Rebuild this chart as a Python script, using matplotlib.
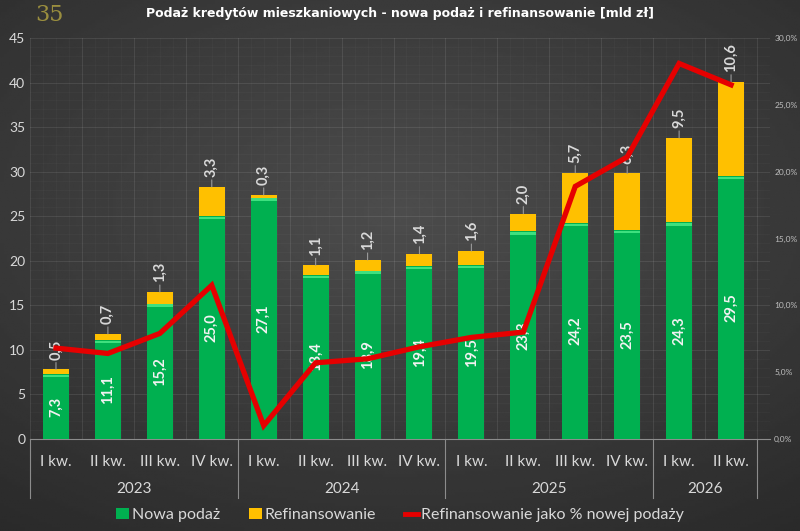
import numpy as np
import matplotlib
matplotlib.use("Agg")
import matplotlib.pyplot as plt
from matplotlib.patches import Patch
from matplotlib.lines import Line2D
from matplotlib.ticker import FuncFormatter, MultipleLocator

plt.rcParams['font.family'] = ['Lato', 'DejaVu Sans']

# --- Daten ---
kwartaly = ["I kw.", "II kw.", "III kw.", "IV kw.",
            "I kw.", "II kw.", "III kw.", "IV kw.",
            "I kw.", "II kw.", "III kw.", "IV kw.",
            "I kw.", "II kw."]
lata = ["2023", "2024", "2025", "2026"]
kw_na_rok = [4, 4, 4, 2]
nowa_podaz = [7.3, 11.1, 15.2, 25.0, 27.1, 18.4, 18.9, 19.4, 19.5, 23.3, 24.2, 23.5, 24.3, 29.5]
refinansowanie = [0.5, 0.7, 1.3, 3.3, 0.3, 1.1, 1.2, 1.4, 1.6, 2.0, 5.7, 6.3, 9.5, 10.6]
refin_proc = [6.8, 6.4, 7.9, 11.5, 1.0, 5.7, 6.0, 6.9, 7.6, 8.0, 18.9, 21.1, 28.1, 26.5]

zielony = "#00b050"
zolty = "#ffc000"
czerwony = "#e60000"
tekst = "#d9d9d9"

fig = plt.figure(figsize=(8, 5.31), dpi=100)
fig.patch.set_facecolor("#333333")

# Hintergrund mit leichter Vignette
bg = fig.add_axes([0, 0, 1, 1], zorder=-10)
yy, xx = np.mgrid[-1:1:200j, -1:1:300j]
r = np.sqrt(xx**2 * 0.8 + (yy + 0.2)**2)
bg.imshow(0.30 - 0.09 * r, cmap="gray", vmin=0, vmax=1, aspect="auto", extent=[0, 1, 0, 1])
bg.axis("off")

ax = fig.add_axes([0.0375, 0.1733, 0.925, 0.755])
ax.set_facecolor("none")
x = np.arange(len(nowa_podaz))

ax.bar(x, nowa_podaz, width=0.5, color=zielony, zorder=3)
ax.bar(x, refinansowanie, width=0.5, bottom=nowa_podaz, color=zolty, zorder=3)
# heller Streifen oben auf den Segmenten
ax.bar(x, [0.25] * len(x), width=0.5, bottom=np.array(nowa_podaz) - 0.35, color="#3ee07f", zorder=3.5)

for i, (n, r_) in enumerate(zip(nowa_podaz, refinansowanie)):
    ax.text(i, n / 2, f"{n:.1f}".replace(".", ","), rotation=90, ha="center", va="center",
            color="#f2f2f2", fontsize=10.5, fontweight="bold", zorder=6)
    ax.annotate(f"{r_:.1f}".replace(".", ","), xy=(i, n + r_), xytext=(0, 7),
                textcoords="offset points", rotation=90, ha="center", va="bottom",
                color=tekst, fontsize=10.5, fontweight="bold", zorder=6,
                arrowprops=dict(arrowstyle="-", color="#999999", lw=0.8, shrinkA=0, shrinkB=0))

ax.set_xlim(-0.5, len(x) - 0.5)
ax.set_ylim(0, 45)
ax.yaxis.set_major_locator(MultipleLocator(5))
ax.yaxis.set_minor_locator(MultipleLocator(1))
ax.set_xticks(np.arange(-0.5, len(x), 1))
ax.set_xticks(np.arange(-0.5, len(x), 0.25), minor=True)
ax.set_xticklabels([])
ax.tick_params(axis="x", which="both", length=0)
ax.tick_params(axis="y", which="both", length=0, colors=tekst, labelsize=10)
ax.grid(which="major", color="white", alpha=0.09, lw=0.8, zorder=0)
ax.grid(which="minor", color="white", alpha=0.035, lw=0.5, zorder=0)
for s in ["top", "right", "left"]:
    ax.spines[s].set_visible(False)
ax.spines["bottom"].set_color("#8c8c8c")

# zweistufige Achsenbeschriftung
trans = ax.get_xaxis_transform()
for i, k in enumerate(kwartaly):
    ax.text(i, -0.057, k, transform=trans, ha="center", va="center", color=tekst, fontsize=11)
start = 0
for rok, n in zip(lata, kw_na_rok):
    ax.text(start + (n - 1) / 2, -0.125, rok, transform=trans, ha="center", va="center",
            color=tekst, fontsize=11)
    start += n
granice = np.cumsum([0] + kw_na_rok) - 0.5
for g in granice:
    ax.plot([g, g], [0, -0.147], transform=trans, color="#8c8c8c", lw=0.8, clip_on=False)

# rechte Achse: Prozent
ax2 = ax.twinx()
ax2.plot(x, refin_proc, color=czerwony, lw=3.8, zorder=5, solid_joinstyle="miter")
ax2.set_ylim(0, 30)
ax2.yaxis.set_major_locator(MultipleLocator(5))
ax2.yaxis.set_major_formatter(FuncFormatter(lambda v, p: f"{v:.1f}%".replace(".", ",")))
ax2.tick_params(axis="y", length=0, colors="#bfbfbf", labelsize=6, pad=3)
for s in ax2.spines.values():
    s.set_visible(False)

fig.text(0.5, 0.975, "Podaż kredytów mieszkaniowych - nowa podaż i refinansowanie [mld zł]",
         ha="center", va="center", color="white", fontsize=9, fontweight="bold",
         family=["DejaVu Sans"])
fig.text(0.062, 0.972, "35", ha="center", va="center", color="#b5a642", fontsize=16,
         family=["DejaVu Serif"], alpha=0.8)

uchwyty = [Patch(facecolor=zielony, edgecolor="none", label="Nowa podaż"),
           Patch(facecolor=zolty, edgecolor="none", label="Refinansowanie"),
           Line2D([0], [0], color=czerwony, lw=3.5, label="Refinansowanie jako % nowej podaży")]
fig.legend(handles=uchwyty, loc="center", bbox_to_anchor=(0.5, 0.03), ncol=3, frameon=False,
           labelcolor=tekst, fontsize=11.5, handlelength=0.8, handletextpad=0.2, columnspacing=1.8)

fig.savefig("out.png", dpi=100, facecolor=fig.get_facecolor())
